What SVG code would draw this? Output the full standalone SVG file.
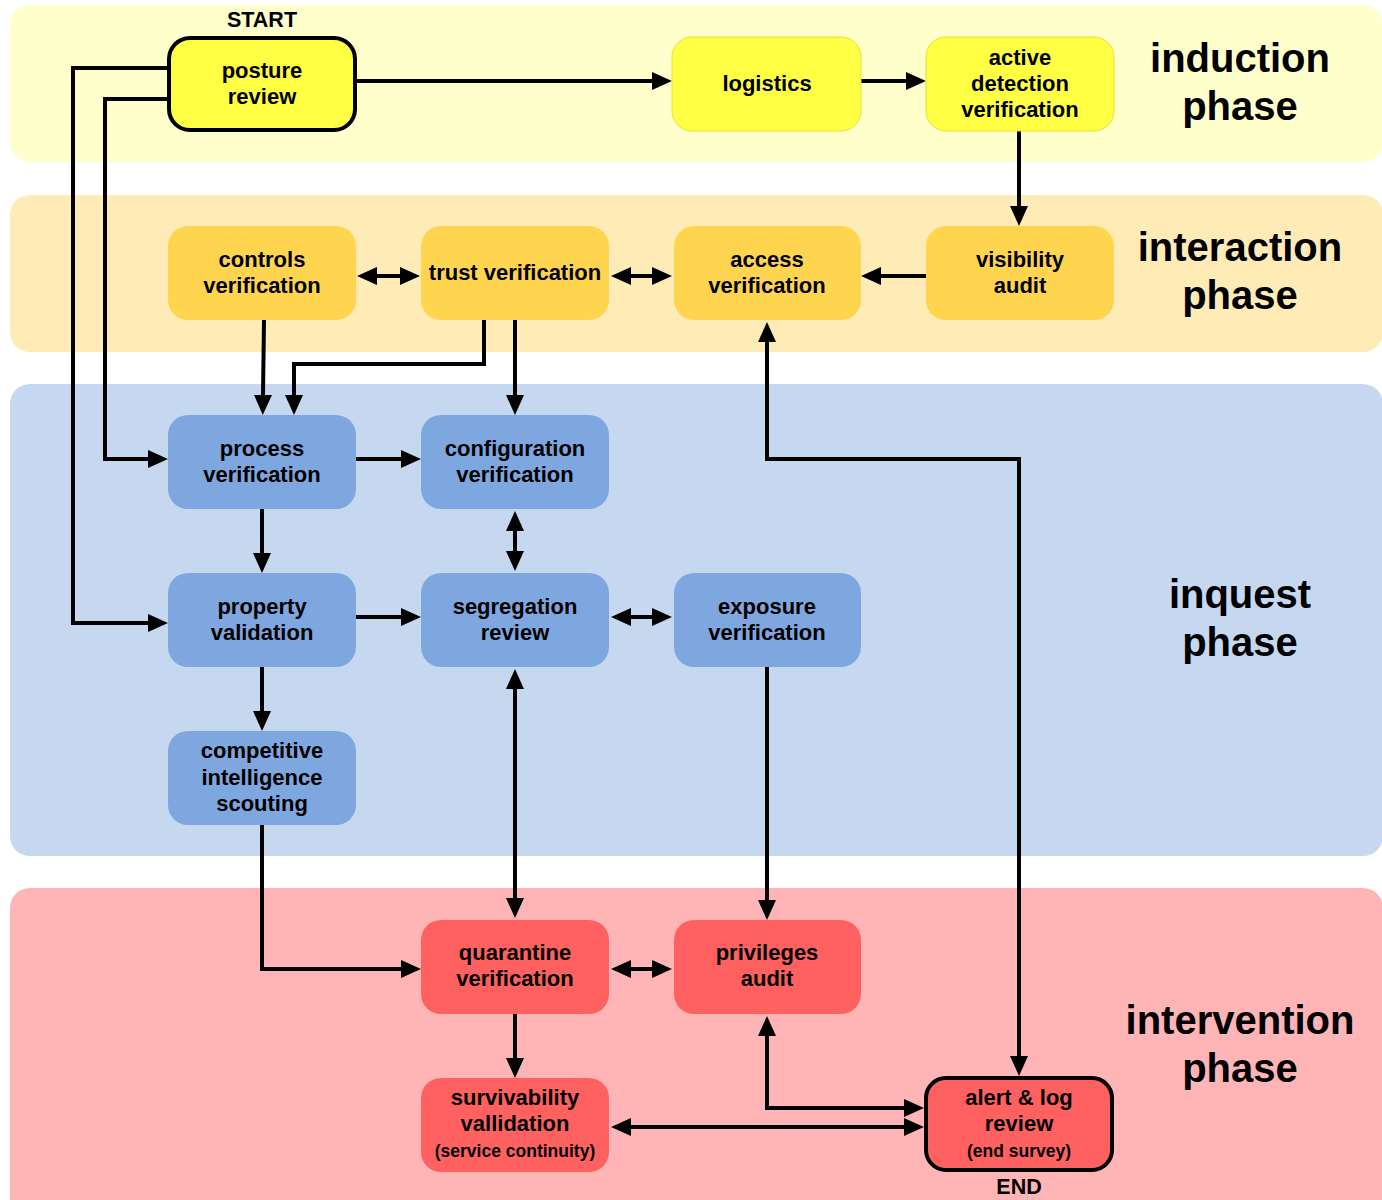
<svg xmlns="http://www.w3.org/2000/svg" width="1382" height="1200" viewBox="0 0 1382 1200">
  <style>
    .band-ind { fill: #FFFFCC; }
    .band-int { fill: #FFEBB6; }
    .band-inq { fill: #C5D8F0; }
    .band-itv { fill: #FFB5B5; }
    .n-yel { fill: #FFFF44; stroke: #E2E23A; stroke-width: 1; }
    .n-org { fill: #FFD54F; }
    .n-blu { fill: #7EA7DF; }
    .n-red { fill: #FF6161; }
    .bold { stroke: #000; stroke-width: 4; }
    text { font-family: "Liberation Sans", Arial, sans-serif; font-weight: bold; fill: #000; text-anchor: middle; }
    .t { font-size: 22px; }
    .s { font-size: 17.5px; }
    .phase { font-size: 40px; }
    .mark { font-size: 21.5px; }
    .edge { fill: none; stroke: #000; stroke-width: 4; }
  </style>
  <defs>
    <marker id="arr" markerUnits="userSpaceOnUse" markerWidth="21" markerHeight="20" refX="0" refY="9" orient="auto-start-reverse">
      <path d="M0,0 L20,9 L0,18 z" fill="#000"/>
    </marker>
  </defs>

  <!-- phase bands -->
  <g id="bands">
    <rect class="band-ind" x="10" y="5" width="1373" height="157" rx="20"/>
    <rect class="band-int" x="10" y="195" width="1373" height="157" rx="20"/>
    <rect class="band-inq" x="10" y="384" width="1373" height="472" rx="20"/>
    <rect class="band-itv" x="10" y="888" width="1373" height="340" rx="20"/>
  </g>

  <!-- phase labels -->
  <g id="phase-labels">
    <text class="phase" x="1240" y="72">induction</text>
    <text class="phase" x="1240" y="120">phase</text>
    <text class="phase" x="1240" y="261">interaction</text>
    <text class="phase" x="1240" y="309">phase</text>
    <text class="phase" x="1240" y="608">inquest</text>
    <text class="phase" x="1240" y="656">phase</text>
    <text class="phase" x="1240" y="1034">intervention</text>
    <text class="phase" x="1240" y="1082">phase</text>
  </g>

  <!-- connectors -->
  <g id="connectors">
    <path class="edge" d="M356,81 H652" marker-end="url(#arr)"/>
    <path class="edge" d="M861,81 H906" marker-end="url(#arr)"/>
    <path class="edge" d="M1019,131 V206" marker-end="url(#arr)"/>
    <path class="edge" d="M926,276 H881" marker-end="url(#arr)"/>
    <path class="edge" d="M631,276 H652" marker-start="url(#arr)" marker-end="url(#arr)"/>
    <path class="edge" d="M377,276 H400" marker-start="url(#arr)" marker-end="url(#arr)"/>
    <path class="edge" d="M264,320 L263,395" marker-end="url(#arr)"/>
    <path class="edge" d="M484,320 V364 H294 V395" marker-end="url(#arr)"/>
    <path class="edge" d="M515,320 V395" marker-end="url(#arr)"/>
    <path class="edge" d="M168,68 H73 V623 H148" marker-end="url(#arr)"/>
    <path class="edge" d="M168,99 H105 V459 H148" marker-end="url(#arr)"/>
    <path class="edge" d="M356,459 H401" marker-end="url(#arr)"/>
    <path class="edge" d="M262,509 V553" marker-end="url(#arr)"/>
    <path class="edge" d="M515,531 V551" marker-start="url(#arr)" marker-end="url(#arr)"/>
    <path class="edge" d="M356,617 H401" marker-end="url(#arr)"/>
    <path class="edge" d="M631,617 H652" marker-start="url(#arr)" marker-end="url(#arr)"/>
    <path class="edge" d="M262,667 V711" marker-end="url(#arr)"/>
    <path class="edge" d="M262,825 V969 H401" marker-end="url(#arr)"/>
    <path class="edge" d="M515,689 V898" marker-start="url(#arr)" marker-end="url(#arr)"/>
    <path class="edge" d="M767,667 V900" marker-end="url(#arr)"/>
    <path class="edge" d="M631,969 H652" marker-start="url(#arr)" marker-end="url(#arr)"/>
    <path class="edge" d="M515,1014 V1058" marker-end="url(#arr)"/>
    <path class="edge" d="M631,1127 H904" marker-start="url(#arr)" marker-end="url(#arr)"/>
    <path class="edge" d="M767,1036 V1108 H904" marker-start="url(#arr)" marker-end="url(#arr)"/>
    <path class="edge" d="M767,342 V459 H1019 V1056" marker-start="url(#arr)" marker-end="url(#arr)"/>
  </g>

  <!-- induction phase -->
  <g id="posture-review">
    <text class="mark" x="262" y="27">START</text>
    <rect class="n-yel bold" x="169" y="38" width="186" height="92" rx="21"/>
    <text class="t" x="262" y="78">posture</text>
    <text class="t" x="262" y="104">review</text>
  </g>
  <g id="logistics">
    <rect class="n-yel" x="672" y="37" width="189" height="94" rx="20"/>
    <text class="t" x="767" y="91">logistics</text>
  </g>
  <g id="active-detection-verification">
    <rect class="n-yel" x="926" y="37" width="188" height="94" rx="20"/>
    <text class="t" x="1020" y="65">active</text>
    <text class="t" x="1020" y="91">detection</text>
    <text class="t" x="1020" y="117">verification</text>
  </g>

  <!-- interaction phase -->
  <g id="controls-verification">
    <rect class="n-org" x="168" y="226" width="188" height="94" rx="20"/>
    <text class="t" x="262" y="267">controls</text>
    <text class="t" x="262" y="293">verification</text>
  </g>
  <g id="trust-verification">
    <rect class="n-org" x="421" y="226" width="188" height="94" rx="20"/>
    <text class="t" x="515" y="280">trust verification</text>
  </g>
  <g id="access-verification">
    <rect class="n-org" x="674" y="226" width="187" height="94" rx="20"/>
    <text class="t" x="767" y="267">access</text>
    <text class="t" x="767" y="293">verification</text>
  </g>
  <g id="visibility-audit">
    <rect class="n-org" x="926" y="226" width="188" height="94" rx="20"/>
    <text class="t" x="1020" y="267">visibility</text>
    <text class="t" x="1020" y="293">audit</text>
  </g>

  <!-- inquest phase -->
  <g id="process-verification">
    <rect class="n-blu" x="168" y="415" width="188" height="94" rx="20"/>
    <text class="t" x="262" y="456">process</text>
    <text class="t" x="262" y="482">verification</text>
  </g>
  <g id="configuration-verification">
    <rect class="n-blu" x="421" y="415" width="188" height="94" rx="20"/>
    <text class="t" x="515" y="456">configuration</text>
    <text class="t" x="515" y="482">verification</text>
  </g>
  <g id="property-validation">
    <rect class="n-blu" x="168" y="573" width="188" height="94" rx="20"/>
    <text class="t" x="262" y="614">property</text>
    <text class="t" x="262" y="640">validation</text>
  </g>
  <g id="segregation-review">
    <rect class="n-blu" x="421" y="573" width="188" height="94" rx="20"/>
    <text class="t" x="515" y="614">segregation</text>
    <text class="t" x="515" y="640">review</text>
  </g>
  <g id="exposure-verification">
    <rect class="n-blu" x="674" y="573" width="187" height="94" rx="20"/>
    <text class="t" x="767" y="614">exposure</text>
    <text class="t" x="767" y="640">verification</text>
  </g>
  <g id="competitive-intelligence-scouting">
    <rect class="n-blu" x="168" y="731" width="188" height="94" rx="20"/>
    <text class="t" x="262" y="758">competitive</text>
    <text class="t" x="262" y="785">intelligence</text>
    <text class="t" x="262" y="811">scouting</text>
  </g>

  <!-- intervention phase -->
  <g id="quarantine-verification">
    <rect class="n-red" x="421" y="920" width="188" height="94" rx="20"/>
    <text class="t" x="515" y="960">quarantine</text>
    <text class="t" x="515" y="986">verification</text>
  </g>
  <g id="privileges-audit">
    <rect class="n-red" x="674" y="920" width="187" height="94" rx="20"/>
    <text class="t" x="767" y="960">privileges</text>
    <text class="t" x="767" y="986">audit</text>
  </g>
  <g id="survivability-validation">
    <rect class="n-red" x="421" y="1078" width="188" height="94" rx="20"/>
    <text class="t" x="515" y="1105">survivability</text>
    <text class="t" x="515" y="1131">vallidation</text>
    <text class="s" x="515" y="1157">(service continuity)</text>
  </g>
  <g id="alert-log-review">
    <rect class="n-red bold" x="926" y="1078" width="186" height="92" rx="20"/>
    <text class="t" x="1019" y="1105">alert &amp; log</text>
    <text class="t" x="1019" y="1131">review</text>
    <text class="s" x="1019" y="1157">(end survey)</text>
    <text class="mark" x="1019" y="1194">END</text>
  </g>
</svg>
